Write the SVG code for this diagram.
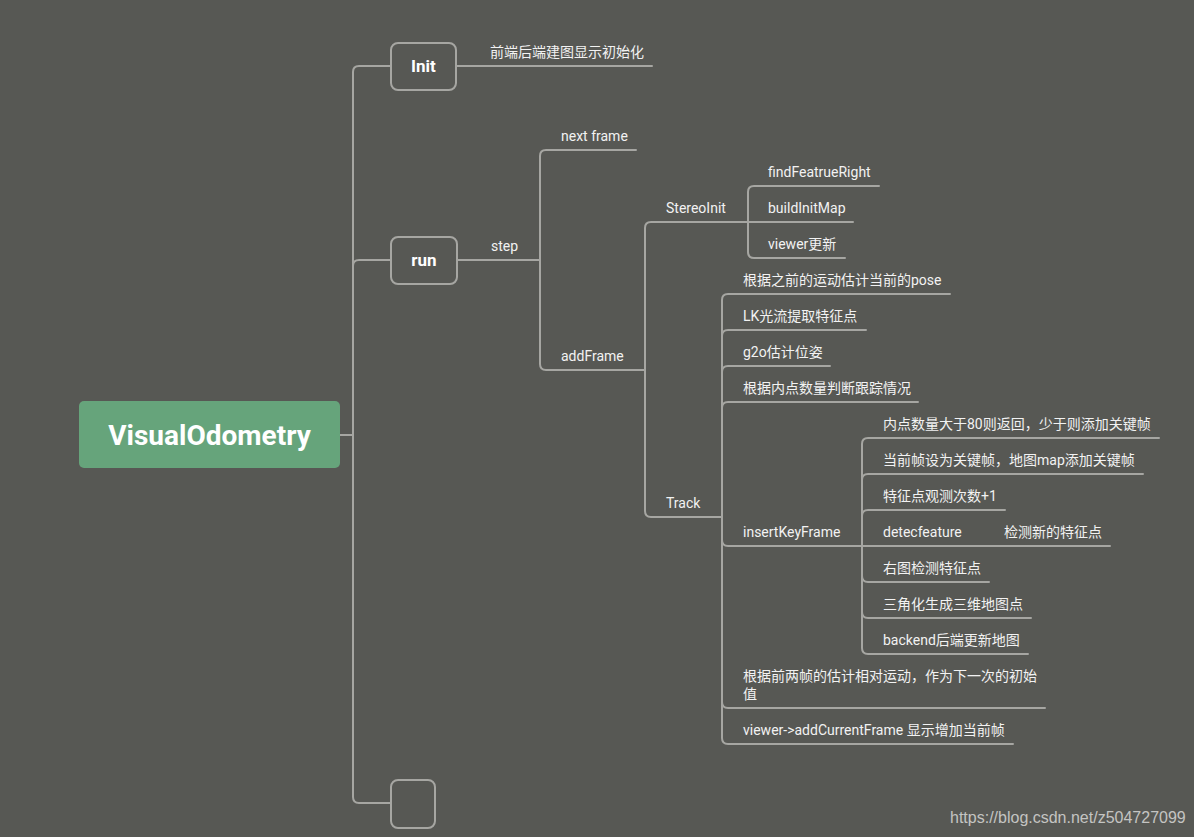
<svg xmlns="http://www.w3.org/2000/svg" width="1194" height="837" viewBox="0 0 1194 837">
<style>
.ln{fill:none;stroke:#a6a6a2;stroke-width:2;stroke-linecap:round}
.t{font-family:Roboto,"Noto Sans CJK SC",sans-serif;font-size:14px;fill:#f2f2f2}
.b{font-family:Roboto,"Noto Sans CJK SC",sans-serif;font-size:17px;font-weight:bold;fill:#ffffff;text-anchor:middle}
.box{fill:#575854;stroke:#a6a6a2;stroke-width:2}
</style>
<rect width="1194" height="837" fill="#575854"/>
<g id="connectors">
<path class="ln" d="M340 435H353"/>
<path class="ln" d="M353 435V72Q353 66 359 66H391"/>
<path class="ln" d="M353 435V266Q353 260 359 260H391"/>
<path class="ln" d="M353 435V797Q353 803 359 803H391"/>
<path class="ln" d="M456 66H652"/>
<path class="ln" d="M457 260H540"/>
<path class="ln" d="M540 260V156Q540 150 546 150H636"/>
<path class="ln" d="M540 260V364Q540 370 546 370H645"/>
<path class="ln" d="M645 370V228Q645 222 651 222H748"/>
<path class="ln" d="M645 370V511Q645 517 651 517H722"/>
<path class="ln" d="M748 222V192Q748 186 754 186H879"/>
<path class="ln" d="M748 222H853"/>
<path class="ln" d="M748 222V252Q748 258 754 258H845"/>
<path class="ln" d="M722 517V300Q722 294 728 294H950"/>
<path class="ln" d="M722 517V336Q722 330 728 330H866"/>
<path class="ln" d="M722 517V372Q722 366 728 366H830"/>
<path class="ln" d="M722 517V408Q722 402 728 402H918"/>
<path class="ln" d="M722 517V540Q722 546 728 546H862"/>
<path class="ln" d="M722 517V702Q722 708 728 708H1045"/>
<path class="ln" d="M722 517V738Q722 744 728 744H1013"/>
<path class="ln" d="M862 546V444Q862 438 868 438H1159"/>
<path class="ln" d="M862 546V480Q862 474 868 474H1143"/>
<path class="ln" d="M862 546V516Q862 510 868 510H1005"/>
<path class="ln" d="M862 546H1110"/>
<path class="ln" d="M862 546V576Q862 582 868 582H989"/>
<path class="ln" d="M862 546V612Q862 618 868 618H1031"/>
<path class="ln" d="M862 546V648Q862 654 868 654H1028"/>
</g>
<g id="root">
<rect x="79" y="401" width="261" height="67" rx="5" fill="#66a47b"/>
<text x="209.5" y="445" font-family="Roboto,sans-serif" font-size="28" font-weight="bold" fill="#ffffff" text-anchor="middle">VisualOdometry</text>
</g>
<g id="init">
<rect class="box" x="391" y="43" width="65" height="47" rx="7"/>
<text class="b" x="423.5" y="72">Init</text>
</g>
<g id="init-desc"><text class="t" x="490" y="57">前端后端建图显示初始化</text></g>
<g id="run">
<rect class="box" x="391" y="237" width="66" height="47" rx="7"/>
<text class="b" x="424" y="266">run</text>
</g>
<g id="empty">
<rect class="box" x="391" y="780" width="44" height="48" rx="7"/>
</g>
<g id="step"><text class="t" x="491" y="251">step</text></g>
<g id="nextframe"><text class="t" x="561" y="141">next frame</text></g>
<g id="addFrame"><text class="t" x="561" y="361">addFrame</text></g>
<g id="StereoInit"><text class="t" x="666" y="213">StereoInit</text></g>
<g id="Track"><text class="t" x="666" y="508">Track</text></g>
<g id="findFeatrueRight"><text class="t" x="768" y="177">findFeatrueRight</text></g>
<g id="buildInitMap"><text class="t" x="768" y="213">buildInitMap</text></g>
<g id="viewer-update"><text class="t" x="768" y="249">viewer更新</text></g>
<g id="pose"><text class="t" x="743" y="285">根据之前的运动估计当前的pose</text></g>
<g id="lk"><text class="t" x="743" y="321">LK光流提取特征点</text></g>
<g id="g2o"><text class="t" x="743" y="357">g2o估计位姿</text></g>
<g id="inlier"><text class="t" x="743" y="393">根据内点数量判断跟踪情况</text></g>
<g id="insertKeyFrame"><text class="t" x="743" y="537">insertKeyFrame</text></g>
<g id="relmotion"><text class="t" x="743" y="681">根据前两帧的估计相对运动，作为下一次的初始</text><text class="t" x="743" y="699">值</text></g>
<g id="addCurrentFrame"><text class="t" x="743" y="735">viewer-&gt;addCurrentFrame 显示增加当前帧</text></g>
<g id="k1"><text class="t" x="883" y="429">内点数量大于80则返回，少于则添加关键帧</text></g>
<g id="k2"><text class="t" x="883" y="465">当前帧设为关键帧，地图map添加关键帧</text></g>
<g id="k3"><text class="t" x="883" y="501">特征点观测次数+1</text></g>
<g id="k4"><text class="t" x="883" y="537">detecfeature</text><text class="t" x="1004" y="537">检测新的特征点</text></g>
<g id="k5"><text class="t" x="883" y="573">右图检测特征点</text></g>
<g id="k6"><text class="t" x="883" y="609">三角化生成三维地图点</text></g>
<g id="k7"><text class="t" x="883" y="645">backend后端更新地图</text></g>
<text x="950" y="823" font-family="Liberation Sans,Arial,sans-serif" font-size="16" fill="#c4c4c2">https://blog.csdn.net/z504727099</text>
</svg>
